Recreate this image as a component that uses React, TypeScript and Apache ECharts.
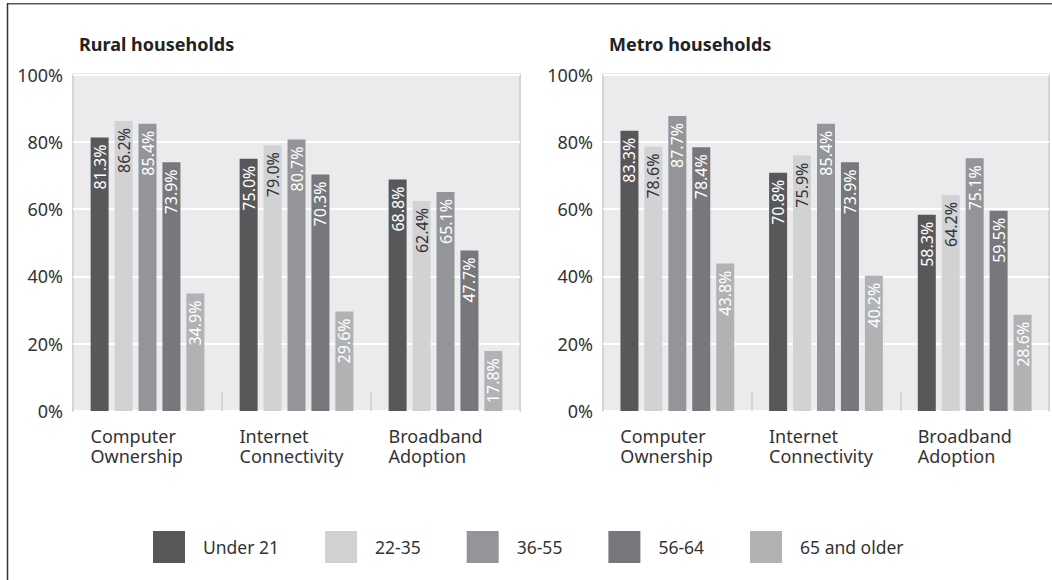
import React, { useEffect, useRef } from "react";
import * as echarts from "echarts";

const categories = ["Computer Ownership", "Internet Connectivity", "Broadband Adoption"];
const ageGroups = ["Under 21", "22-35", "36-55", "56-64", "65 and older"];
const colors = ["#58585a", "#d1d2d4", "#939598", "#77787b", "#b1b2b4"];
const labelColors = ["#ffffff", "#333333", "#ffffff", "#ffffff", "#ffffff"];

const ruralUnder21 = [81.3, 75.0, 68.8];
const rural22to35 = [86.2, 79.0, 62.4];
const rural36to55 = [85.4, 80.7, 65.1];
const rural56to64 = [73.9, 70.3, 47.7];
const rural65plus = [34.9, 29.6, 17.8];

const metroUnder21 = [83.3, 70.8, 58.3];
const metro22to35 = [78.6, 75.9, 64.2];
const metro36to55 = [87.7, 85.4, 75.1];
const metro56to64 = [78.4, 73.9, 59.5];
const metro65plus = [43.8, 40.2, 28.6];

const titles = ["Rural households", "Metro households"];
const yTicks = { min: 0, max: 100, interval: 20 };

const ruralData = [ruralUnder21, rural22to35, rural36to55, rural56to64, rural65plus];
const metroData = [metroUnder21, metro22to35, metro36to55, metro56to64, metro65plus];

const FONT = "'Noto Sans', sans-serif";

export default function App() {
  const ref = useRef<HTMLDivElement>(null);

  useEffect(() => {
    if (!ref.current) return;
    const chart = echarts.init(ref.current, undefined, { renderer: "svg" });

    const grids = [
      { left: 73, top: 74.5, width: 447, height: 336.5 },
      { left: 603, top: 74.5, width: 446, height: 336.5 },
    ];

    const xAxes = grids.map((_, i) => ({
      type: "category",
      gridIndex: i,
      data: categories,
      axisLine: { show: false },
      axisTick: {
        show: true,
        inside: true,
        length: 19,
        alignWithLabel: false,
        lineStyle: { color: "#d4d4d6", width: 2 },
      },
      axisLabel: {
        interval: 0,
        margin: 15,
        width: 114,
        align: "center",
        formatter: (v: string) =>
          v
            .split(" ")
            .map((w) => `{a|${w}}`)
            .join("\n"),
        rich: {
          a: {
            fontSize: 18,
            lineHeight: 20,
            color: "#333333",
            fontFamily: FONT,
            align: "left",
          },
        },
      },
    }));

    const yAxes = grids.map((_, i) => ({
      type: "value",
      gridIndex: i,
      min: yTicks.min,
      max: yTicks.max,
      interval: yTicks.interval,
      axisLine: { show: false },
      axisTick: { show: false },
      axisLabel: {
        formatter: "{value}%",
        fontSize: 18,
        color: "#333333",
        fontFamily: FONT,
        margin: 10,
      },
      splitLine: { show: true, lineStyle: { color: "#ffffff", width: 2 } },
    }));

    const makeSeries = (data: number[][], idx: number) =>
      data.map((vals, s) => ({
        name: ageGroups[s],
        type: "bar",
        xAxisIndex: idx,
        yAxisIndex: idx,
        data: vals,
        barWidth: 18,
        barGap: "33%",
        itemStyle: { color: colors[s] },
        label: {
          show: true,
          position: "insideTop",
          rotate: 90,
          align: "right",
          verticalAlign: "middle",
          distance: 7,
          fontSize: 16,
          fontFamily: FONT,
          color: labelColors[s],
          formatter: (p: any) => `${Number(p.value).toFixed(1)}%`,
        },
      }));

    chart.setOption({
      animation: false,
      backgroundColor: "#ffffff",
      textStyle: { fontFamily: FONT },
      title: titles.map((t, i) => ({
        text: t,
        left: grids[i].left + 1,
        top: 28,
        textStyle: {
          fontSize: 18,
          fontWeight: "bold",
          color: "#222222",
          fontFamily: FONT,
          lineHeight: 22,
        },
      })),
      legend: {
        data: ageGroups,
        left: 148,
        top: 526,
        icon: "rect",
        itemWidth: 32,
        itemHeight: 32,
        itemGap: 46,
        textStyle: {
          fontSize: 17.5,
          color: "#333333",
          fontFamily: FONT,
          padding: [0, 0, 0, 13],
        },
      },
      grid: grids.map((g) => ({
        ...g,
        show: true,
        backgroundColor: "#ebebed",
        borderColor: "#d4d4d6",
        borderWidth: 2,
        containLabel: false,
      })),
      xAxis: xAxes,
      yAxis: yAxes,
      series: [...makeSeries(ruralData, 0), ...makeSeries(metroData, 1)],
      graphic: [
        {
          type: "line",
          shape: { x1: 7, y1: 3.75, x2: 1052, y2: 3.75 },
          style: { stroke: "#58585a", lineWidth: 1.5 },
          silent: true,
        },
        {
          type: "line",
          shape: { x1: 7.5, y1: 3, x2: 7.5, y2: 580 },
          style: { stroke: "#333333", lineWidth: 1.5 },
          silent: true,
        },
      ],
    });

    return () => chart.dispose();
  }, []);

  return (
    <div
      ref={ref}
      style={{ position: "fixed", left: 0, top: 0, width: 1052, height: 580 }}
    />
  );
}
